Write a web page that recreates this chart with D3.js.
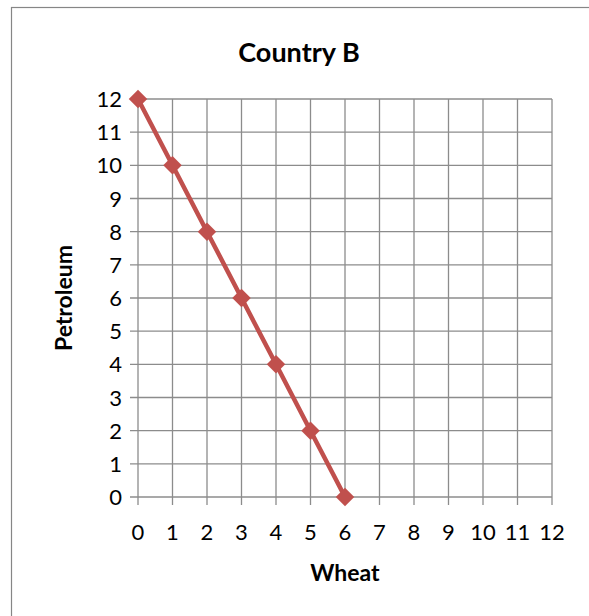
<!DOCTYPE html>
<html>
<head>
<meta charset="utf-8">
<script src="https://cdn.jsdelivr.net/npm/d3@7"></script>
<style>
  body { margin: 0; background: #fff; }
  svg { display: block; }
</style>
</head>
<body>
<svg width="589" height="616"></svg>
<script>
// Country B production possibilities
var wheat = [0, 1, 2, 3, 4, 5, 6];
var petroleum = [12, 10, 8, 6, 4, 2, 0];
var xTicks = d3.range(0, 13);
var yTicks = d3.range(0, 13);

(function() {
var svg = d3.select("svg"),
    font = "Lato, 'Open Sans', sans-serif";

var plotLeft = 138, plotRight = 552, plotTop = 99, plotBottom = 497;

var x = d3.scaleLinear().domain([0, 12]).range([plotLeft, plotRight]);
var y = d3.scaleLinear().domain([0, 12]).range([plotBottom, plotTop]);

// chart border (no right/bottom edge visible)
svg.append("rect")
    .attr("x", 11.5).attr("y", 7.5)
    .attr("width", 600).attr("height", 620)
    .attr("fill", "#fff")
    .attr("stroke", "#868686")
    .attr("stroke-width", 1.2);

// grid
var grid = svg.append("g").attr("stroke", "#8c8c8c").attr("stroke-width", 1.3);
grid.selectAll(".v").data(xTicks).enter().append("line")
    .attr("x1", function(d) { return x(d); })
    .attr("x2", function(d) { return x(d); })
    .attr("y1", plotTop).attr("y2", plotBottom + 8);
grid.selectAll(".h").data(yTicks).enter().append("line")
    .attr("y1", function(d) { return y(d); })
    .attr("y2", function(d) { return y(d); })
    .attr("x1", plotLeft - 8).attr("x2", plotRight);

// tick labels
svg.append("g").selectAll("text").data(xTicks).enter().append("text")
    .attr("x", function(d) { return x(d); })
    .attr("y", 540)
    .attr("text-anchor", "middle")
    .attr("font-family", font)
    .attr("font-size", "22px")
    .attr("fill", "#000")
    .text(function(d) { return d; });

svg.append("g").selectAll("text").data(yTicks).enter().append("text")
    .attr("x", 122)
    .attr("y", function(d) { return y(d) + 8; })
    .attr("text-anchor", "end")
    .attr("font-family", font)
    .attr("font-size", "22px")
    .attr("fill", "#000")
    .text(function(d) { return d; });

// line + markers
var pts = wheat.map(function(w, i) { return [w, petroleum[i]]; });

svg.append("path")
    .datum(pts)
    .attr("fill", "none")
    .attr("stroke", "#C0504D")
    .attr("stroke-width", 4.5)
    .attr("stroke-linejoin", "round")
    .attr("d", d3.line()
        .x(function(d) { return x(d[0]); })
        .y(function(d) { return y(d[1]); }));

svg.append("g").selectAll("path").data(pts).enter().append("path")
    .attr("transform", function(d) { return "translate(" + x(d[0]) + "," + y(d[1]) + ") rotate(45)"; })
    .attr("d", d3.symbol().type(d3.symbolSquare).size(170))
    .attr("fill", "#C0504D");

// titles
svg.append("text")
    .attr("x", 299).attr("y", 62)
    .attr("text-anchor", "middle")
    .attr("font-family", font)
    .attr("font-weight", "bold")
    .attr("font-size", "27px")
    .text("Country B");

svg.append("text")
    .attr("x", 345).attr("y", 581)
    .attr("text-anchor", "middle")
    .attr("font-family", font)
    .attr("font-weight", "bold")
    .attr("font-size", "23px")
    .text("Wheat");

svg.append("text")
    .attr("transform", "translate(72,298) rotate(-90)")
    .attr("text-anchor", "middle")
    .attr("font-family", font)
    .attr("font-weight", "bold")
    .attr("font-size", "23px")
    .text("Petroleum");
})();
</script>
</body>
</html>
